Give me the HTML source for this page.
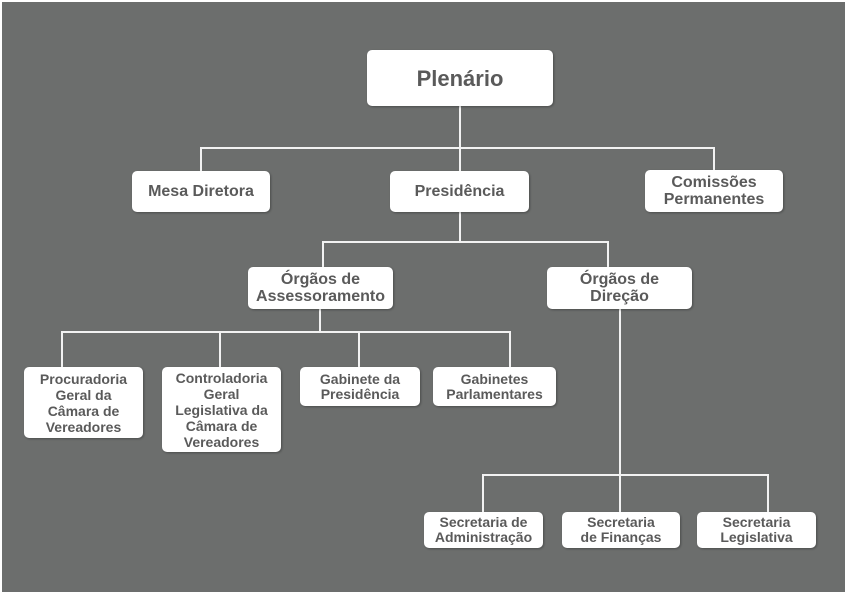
<!DOCTYPE html>
<html><head><meta charset="utf-8"><style>
html,body{margin:0;padding:0}
body{width:847px;height:597px;background:#fff;position:relative;overflow:hidden;font-family:"Liberation Sans",sans-serif}
.bg{position:absolute;left:2px;top:2px;width:843px;height:590px;background:#6c6e6d}
.b{position:absolute;background:#fff;border-radius:5px;color:#5a5a5a;font-weight:bold;display:flex;align-items:center;justify-content:center;text-align:center;line-height:15px;font-size:14px;box-shadow:1px 1px 2px rgba(0,0,0,.3)}
.m{font-size:16px;line-height:17px}
.l{position:absolute;background:#f2f2f2}
</style></head><body>
<div class="bg"></div>
<div class="l" style="left:459px;top:106px;width:2px;height:65px"></div>
<div class="l" style="left:200px;top:147px;width:515px;height:2px"></div>
<div class="l" style="left:200px;top:147px;width:2px;height:24px"></div>
<div class="l" style="left:713px;top:147px;width:2px;height:24px"></div>
<div class="l" style="left:459px;top:212px;width:2px;height:30px"></div>
<div class="l" style="left:322px;top:241px;width:287px;height:2px"></div>
<div class="l" style="left:322px;top:241px;width:2px;height:26px"></div>
<div class="l" style="left:607px;top:241px;width:2px;height:26px"></div>
<div class="l" style="left:319px;top:309px;width:2px;height:23px"></div>
<div class="l" style="left:61px;top:331px;width:450px;height:2px"></div>
<div class="l" style="left:61px;top:331px;width:2px;height:36px"></div>
<div class="l" style="left:219px;top:331px;width:2px;height:36px"></div>
<div class="l" style="left:358px;top:331px;width:2px;height:36px"></div>
<div class="l" style="left:509px;top:331px;width:2px;height:36px"></div>
<div class="l" style="left:619px;top:309px;width:2px;height:203px"></div>
<div class="l" style="left:482px;top:474px;width:287px;height:2px"></div>
<div class="l" style="left:482px;top:474px;width:2px;height:38px"></div>
<div class="l" style="left:767px;top:474px;width:2px;height:38px"></div>
<div class="b" style="left:367px;top:50px;width:186px;height:56px;font-size:22px">Plenário</div>
<div class="b m" style="left:132px;top:171px;width:138px;height:41px">Mesa Diretora</div>
<div class="b m" style="left:390px;top:171px;width:139px;height:41px">Presidência</div>
<div class="b m" style="left:645px;top:170px;width:138px;height:42px">Comissões<br>Permanentes</div>
<div class="b m" style="left:248px;top:267px;width:145px;height:42px">Órgãos de<br>Assessoramento</div>
<div class="b m" style="left:547px;top:267px;width:145px;height:42px">Órgãos de<br>Direção</div>
<div class="b" style="left:24px;top:367px;width:119px;height:71px;line-height:16px">Procuradoria<br>Geral da<br>Câmara de<br>Vereadores</div>
<div class="b" style="left:162px;top:367px;width:119px;height:85px;line-height:16px">Controladoria<br>Geral<br>Legislativa da<br>Câmara de<br>Vereadores</div>
<div class="b" style="left:300px;top:367px;width:120px;height:39px">Gabinete da<br>Presidência</div>
<div class="b" style="left:433px;top:367px;width:123px;height:39px">Gabinetes<br>Parlamentares</div>
<div class="b" style="left:424px;top:512px;width:119px;height:36px">Secretaria de<br>Administração</div>
<div class="b" style="left:562px;top:512px;width:118px;height:36px">Secretaria<br>de Finanças</div>
<div class="b" style="left:697px;top:512px;width:119px;height:36px">Secretaria<br>Legislativa</div>
</body></html>
